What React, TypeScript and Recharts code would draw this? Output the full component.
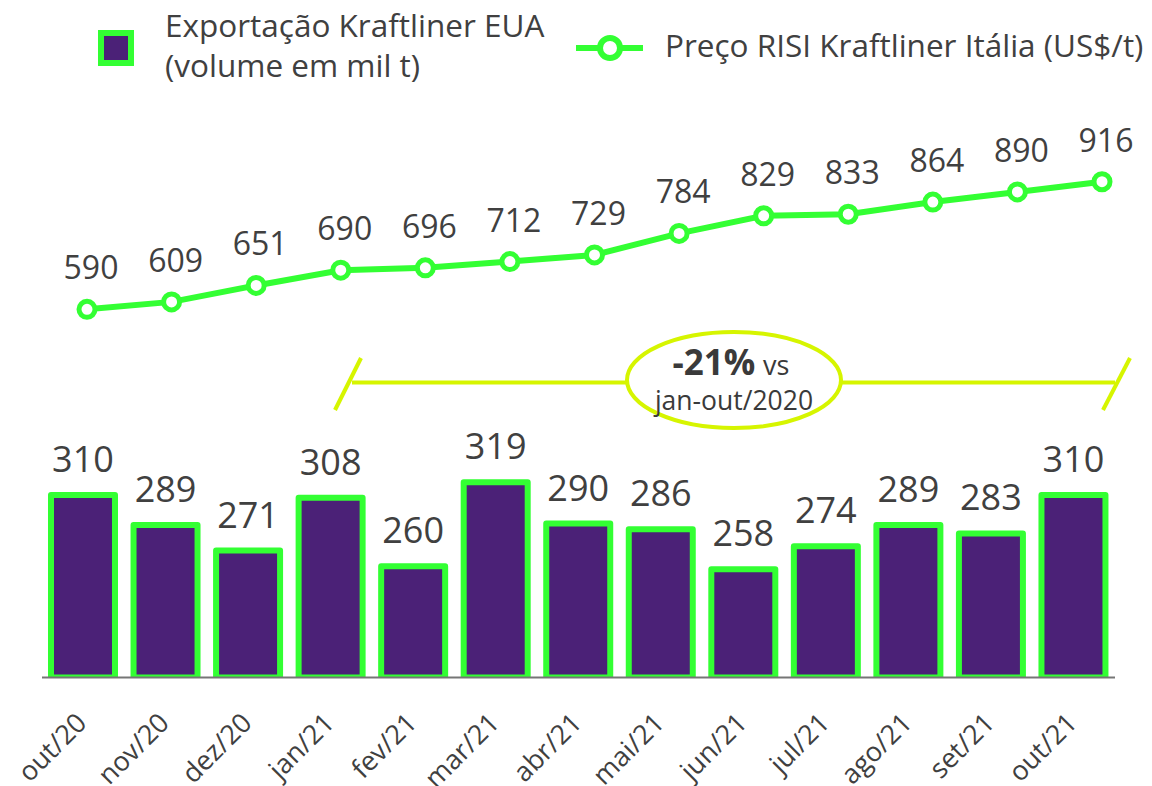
import React from "react";
import { ComposedChart, Bar, Line, XAxis, YAxis, LabelList, Legend } from "recharts";

const months = ["out/20", "nov/20", "dez/20", "jan/21", "fev/21", "mar/21", "abr/21", "mai/21", "jun/21", "jul/21", "ago/21", "set/21", "out/21"];
const exportVolume = [310, 289, 271, 308, 260, 319, 290, 286, 258, 274, 289, 283, 310];
const risiPrice = [590, 609, 651, 690, 696, 712, 729, 784, 829, 833, 864, 890, 916];

const data = months.map((month, i) => ({ month, volume: exportVolume[i], price: risiPrice[i] }));

const GREEN = "#33ff33";
const PURPLE = "#4b2177";
const LIME = "#d6f500";
const TEXT = "#404040";
const FONT = "'Open Sans', sans-serif";

function XTick({ x, y, payload }: any) {
  const tx = x + 5;
  const ty = y + 39;
  return (
    <text x={tx} y={ty} transform={`rotate(-45, ${tx}, ${ty})`} textAnchor="end" fontSize={27} fill={TEXT} fontFamily={FONT}>
      {payload.value}
    </text>
  );
}

function BarLabel({ x, y, width, value }: any) {
  return (
    <text x={x + width / 2} y={y - 23} textAnchor="middle" fontSize={36} fill={TEXT} fontFamily={FONT}>
      {value}
    </text>
  );
}

function LineLabel({ x, y, value }: any) {
  return (
    <text x={x + 4} y={y - 30} textAnchor="middle" fontSize={32} fill={TEXT} fontFamily={FONT}>
      {value}
    </text>
  );
}

function LegendBox() {
  return (
    <svg width={1152} height={100} style={{ display: "block" }}>
      <rect x={101} y={33} width={30} height={30} fill={PURPLE} stroke={GREEN} strokeWidth={6} />
      <text x={165} y={37} fontSize={31.5} fill={TEXT} fontFamily={FONT}>Exportação Kraftliner EUA</text>
      <text x={165} y={77} fontSize={31.5} fill={TEXT} fontFamily={FONT}>(volume em mil t)</text>
      <line x1={576} y1={48} x2={643} y2={48} stroke={GREEN} strokeWidth={6} />
      <circle cx={610} cy={48} r={10} fill="#fff" stroke={GREEN} strokeWidth={6} />
      <text x={665} y={57} fontSize={31.5} fill={TEXT} fontFamily={FONT}>Preço RISI Kraftliner Itália (US$/t)</text>
    </svg>
  );
}

function Annotation() {
  return (
    <g>
      <line x1={352} y1={382.5} x2={1115} y2={382.5} stroke={LIME} strokeWidth={4} />
      <line x1={361} y1={358} x2={335} y2={410} stroke={LIME} strokeWidth={4} />
      <line x1={1130} y1={358} x2={1103} y2={410} stroke={LIME} strokeWidth={4} />
      <ellipse cx={734} cy={380} rx={107} ry={48} fill="#fff" stroke={LIME} strokeWidth={4} />
      <text x={714} y={375} textAnchor="middle" fontSize={35} fontWeight={700} fill="#3a3a3a" fontFamily={FONT}>-21%</text>
      <text x={763} y={375} fontSize={27} fill="#3a3a3a" fontFamily={FONT}>vs</text>
      <text x={734} y={410} textAnchor="middle" fontSize={26.5} fill="#3a3a3a" fontFamily={FONT}>jan-out/2020</text>
    </g>
  );
}

export default function App() {
  return (
    <div style={{ position: "absolute", left: 0, top: 0, width: 1152, height: 786, background: "#fff", fontFamily: FONT }}>
      <ComposedChart width={1152} height={786} data={data} margin={{ top: 100, right: 37, left: 42, bottom: 78.5 }}>
        <XAxis
          dataKey="month"
          height={30}
          interval={0}
          tickLine={false}
          axisLine={{ stroke: "#767676", strokeWidth: 2 }}
          tick={<XTick />}
        />
        <XAxis xAxisId="line" dataKey="month" hide scale="point" padding={{ left: 45, right: 13 }} />
        <YAxis yAxisId="bar" hide type="number" domain={[182, 587]} allowDataOverflow />
        <YAxis yAxisId="line" hide type="number" domain={[-350.7, 1124.8]} allowDataOverflow />
        <Legend
          layout="vertical"
          verticalAlign="middle"
          align="center"
          wrapperStyle={{ top: 0, left: 0, width: 1152, height: 100 }}
          content={() => <LegendBox />}
        />
        <Annotation />
        <Bar
          dataKey="volume"
          yAxisId="bar"
          barSize={64}
          fill={PURPLE}
          stroke={GREEN}
          strokeWidth={6}
          strokeLinejoin="round"
          isAnimationActive={false}
        >
          <LabelList dataKey="volume" content={<BarLabel />} />
        </Bar>
        <Line
          dataKey="price"
          xAxisId="line"
          yAxisId="line"
          stroke={GREEN}
          strokeWidth={6}
          dot={{ r: 8, fill: "#fff", stroke: GREEN, strokeWidth: 5 }}
          isAnimationActive={false}
        >
          <LabelList dataKey="price" content={<LineLabel />} />
        </Line>
      </ComposedChart>
    </div>
  );
}
